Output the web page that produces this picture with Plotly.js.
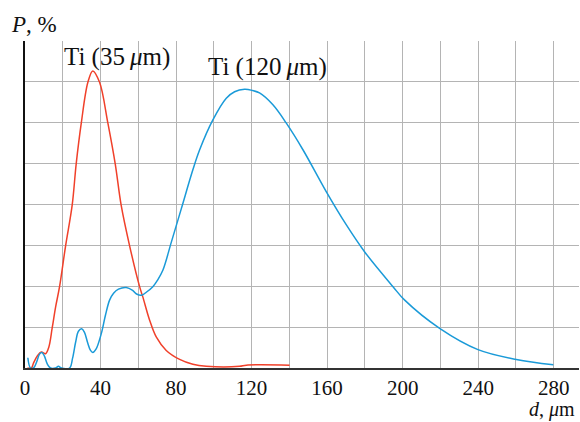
<!DOCTYPE html>
<html>
<head>
<meta charset="utf-8">
<script src="https://cdn.plot.ly/plotly-3.0.1.min.js"></script>
<style>html,body{margin:0;padding:0;background:#fff}</style>
</head>
<body>
<div id="chart" style="width:580px;height:422px"></div>
<script>
// Ti (35 µm) distribution
const redD = [1.3,3.4,4.5,6.6,8.6,10.9,12.6,14.4,16.2,18.3,21.5,25.0,27.1,29.8,33.3,35.9,39.5,43.9,47.8,50.9,55.4,60.7,62.4,66.0,69.5,74.8,81.9,88.9,96.0,113.6,117.2,140.1];
const redP = [0,0,0.12,0.30,0.39,0.35,0.51,0.98,1.49,1.99,2.99,3.99,4.99,5.99,6.99,7.27,6.99,5.99,4.99,3.99,2.99,1.99,1.74,1.17,0.76,0.43,0.21,0.09,0.04,0.04,0.07,0.07];
// Ti (120 µm) distribution
const blueD = [1.5,2.9,4.5,6.1,7.7,9.0,10.3,11.9,13.5,16.2,17.7,19.3,23.6,25.2,26.8,28.3,30.0,31.5,33.1,34.7,35.9,37.6,40.4,42.6,44.8,46.9,49.5,53.6,57.0,59.1,61.7,64.4,67.7,70.2,73.0,77.5,82.8,88.9,92.5,99.5,106.6,111.0,116.3,120.5,124.2,131.3,138.4,147.2,159.6,170.2,179.9,194.9,201.1,219.6,239.9,260.2,279.8];
const blueP = [0.25,0,0,0.14,0.34,0.38,0.29,0.09,0,0,0.04,0,0,0.24,0.63,0.90,0.96,0.87,0.63,0.43,0.38,0.46,0.84,1.29,1.66,1.83,1.93,1.97,1.90,1.81,1.78,1.86,1.99,2.15,2.39,3.08,3.90,4.85,5.34,6.07,6.60,6.76,6.82,6.79,6.73,6.44,5.99,5.34,4.31,3.50,2.84,1.99,1.66,0.97,0.45,0.21,0.08];
const xTicks = [0,40,80,120,160,200,240,280];
const xGrid = [0,20,40,60,80,100,120,140,160,180,200,220,240,260,280];

const serif = "Liberation Serif, Times New Roman, serif";

const traces = [
  {x: redD, y: redP, mode: 'lines', line: {color: '#f0402a', width: 1.5, shape: 'spline', smoothing: 1}, hoverinfo: 'skip'},
  {x: blueD, y: blueP, mode: 'lines', line: {color: '#1a9ad8', width: 1.5, shape: 'spline', smoothing: 1}, hoverinfo: 'skip'}
];

const layout = {
  width: 580, height: 422,
  margin: {l: 25, r: 1, t: 41, b: 54, pad: 0},
  paper_bgcolor: '#fff', plot_bgcolor: '#fff',
  showlegend: false,
  font: {family: serif, size: 22, color: '#111'},
  xaxis: {
    range: [0, 293.4], tickmode: 'array', tickvals: xGrid,
    ticktext: xGrid.map(v => xTicks.includes(v) ? String(v) : ''),
    showgrid: true, gridcolor: '#b4b4b4', gridwidth: 1,
    zeroline: false, showline: true, linecolor: '#333', linewidth: 2,
    ticks: '', tickfont: {family: serif, size: 21, color: '#111'},
    fixedrange: true
  },
  yaxis: {
    range: [0, 8.001], tickmode: 'linear', tick0: 0, dtick: 1,
    showgrid: true, gridcolor: '#b4b4b4', gridwidth: 1,
    zeroline: false, showline: true, linecolor: '#111', linewidth: 2,
    showticklabels: false, ticks: '', fixedrange: true
  },
  annotations: [
    {x: 48.5, y: 7.6, xref: 'x', yref: 'y', xanchor: 'center', yanchor: 'middle', text: 'Ti (35\u2009<i>μ</i>m)', showarrow: false,
     font: {family: serif, size: 25, color: '#111'}},
    {x: 128.5, y: 7.37, xref: 'x', yref: 'y', xanchor: 'center', yanchor: 'middle', text: 'Ti (120\u2009<i>μ</i>m)', showarrow: false,
     font: {family: serif, size: 25, color: '#111'}},
    {x: 0.016, y: 1.049, xref: 'paper', yref: 'paper', xanchor: 'center', yanchor: 'middle', text: '<i>P</i>, %', showarrow: false,
     font: {family: serif, size: 23, color: '#111'}},
    {x: 0.996, y: -0.1284, xref: 'paper', yref: 'paper', xanchor: 'right', yanchor: 'middle', text: '<i>d</i>, <i>μ</i>m', showarrow: false,
     font: {family: serif, size: 20, color: '#111'}}
  ]
};

Plotly.newPlot('chart', traces, layout, {displayModeBar: false, staticPlot: true});
</script>
</body>
</html>
